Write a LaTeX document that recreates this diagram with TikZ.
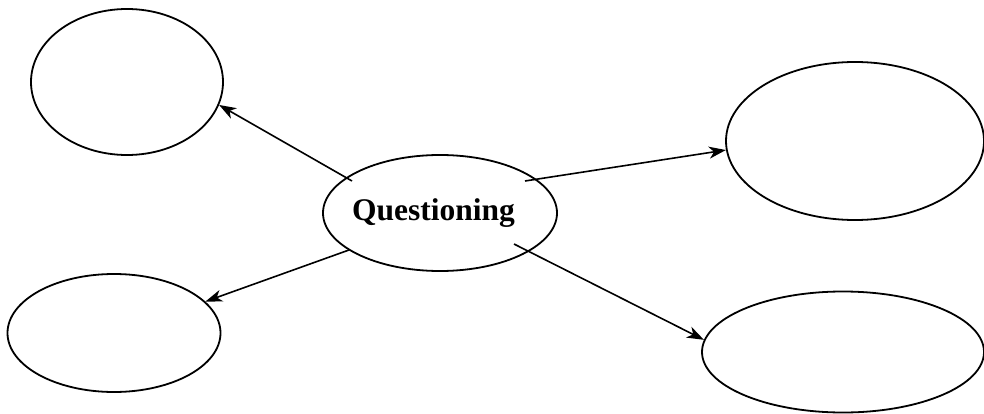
\documentclass[tikz,border=0pt]{standalone}
\usepackage{fontspec}
\setmainfont{Liberation Serif}
\usetikzlibrary{shapes.geometric,arrows.meta}
\begin{document}
\begin{tikzpicture}[x=1pt,y=-1pt,
  bubble/.style={draw=black,line width=1.8pt,ellipse,inner sep=0pt,fill=none},
  conn/.style={draw=black,line width=1.6pt,-{Stealth[length=17pt,width=12pt,inset=5pt]}}]
\useasboundingbox (0,0) rectangle (984,414);
\node[bubble,minimum width=192pt,minimum height=146pt] (tl) at (127,82) {};
\node[bubble,minimum width=258pt,minimum height=158pt] (tr) at (855,141) {};
\node[bubble,minimum width=213pt,minimum height=118pt] (bl) at (114,333) {};
\node[bubble,minimum width=282pt,minimum height=121pt] (br) at (843,352) {};
\node[bubble,minimum width=234pt,minimum height=116pt,font=\fontsize{31.5}{36}\selectfont\bfseries] (q) at (440,213) {\makebox[0pt][c]{\hspace*{-13pt}Questioning}};
\coordinate (s1) at ([shift={(-88,-32)}]q.center);
\coordinate (s2) at ([shift={(85,-32)}]q.center);
\coordinate (s3) at ([shift={(-91,37)}]q.center);
\coordinate (s4) at ([shift={(74,31)}]q.center);
\draw[conn] (s1) -- (tl.-14);
\draw[conn] (s2) -- (tr.184);
\draw[conn] (s3) -- (bl.19);
\draw[conn] (s4) -- (br.175);
\end{tikzpicture}
\end{document}
